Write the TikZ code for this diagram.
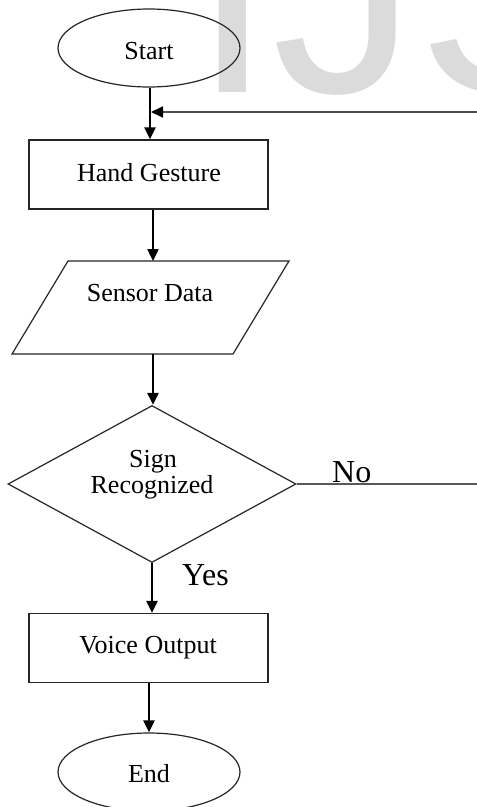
\documentclass[tikz,border=0pt]{standalone}
\usepackage{fontspec}
\setmainfont{Liberation Serif}
\newfontfamily\wmfont{Liberation Sans}
\usetikzlibrary{shapes.geometric,arrows.meta}
\begin{document}
\begin{tikzpicture}[x=1pt,y=-1pt,
  shapeline/.style={draw=black!85, line width=1.2pt},
  termnode/.style={shapeline, ellipse, minimum width=182pt, minimum height=78pt, inner sep=0pt},
  procbox/.style={shapeline, rectangle, minimum width=239pt, minimum height=69pt, inner sep=0pt},
  decnode/.style={shapeline, diamond, minimum width=288pt, minimum height=157pt, inner sep=0pt},
  txt/.style={anchor=base, inner sep=0pt, font=\fontsize{26}{26}\selectfont},
  lbl/.style={anchor=base west, inner sep=0pt, font=\fontsize{32}{32}\selectfont},
  flow/.style={draw=black, line width=2.4pt, -{Triangle[length=12pt,width=11pt]}},
  backline/.style={draw=black!70, line width=2pt},
  ]
\useasboundingbox (0,0) rectangle (477,807);
\clip (0,0) rectangle (477,807);
\fill[white] (0,0) rectangle (477,807);
% watermark
\node[anchor=base west, inner sep=0pt, text=black!14, font=\wmfont\fontsize{290}{290}\selectfont] (wm) at (192,92) {IJS};

% shapes
\node[termnode] (start) at (149,48) {};
\node[procbox] (hg) at (148.5,174.5) {};
\coordinate (sdtop) at (153,261);
\coordinate (sdbot) at (153,354);
\draw[shapeline] (68,261) -- (289,261) -- (233,354) -- (12,354) -- cycle;
\node[decnode] (dec) at (152,484) {};
\node[procbox] (vo) at (148.5,648) {};
\node[termnode] (end) at (149,772) {};

% texts
\node[txt] (starttxt) at (149,59) {Start};
\node[txt] (hgtxt) at (149,181) {Hand Gesture};
\node[txt] (sdtxt) at (150,301) {Sensor Data};
\node[txt] (signtxt) at (153,467) {Sign};
\node[txt] (rectxt) at (152,493) {Recognized};
\node[txt] (votxt) at (148,653) {Voice Output};
\node[txt] (endtxt) at (149,782) {End};
\node[lbl] (no) at (332,482) {No};
\node[lbl] (yes) at (182,585) {Yes};

% connectors
\coordinate (fbend) at (477,112);
\coordinate (join) at (151,112);
\draw[flow] ([xshift=1pt]start.south) -- ([xshift=1pt]start.south |- hg.north);
\draw[backline, -{Triangle[length=12pt,width=11pt,color=black,fill=black]}] (fbend) -- (join);
\draw[flow] (hg.south -| sdtop) -- (sdtop);
\draw[flow] (sdbot) -- (sdbot |- dec.north);
\coordinate (noend) at (477,484);
\draw[draw=black!65, line width=1.6pt] (dec.east) -- (noend);
\draw[flow] (dec.south) -- (dec.south |- vo.north);
\draw[flow] (vo.south -| end.north) -- (end.north);
\end{tikzpicture}
\end{document}
